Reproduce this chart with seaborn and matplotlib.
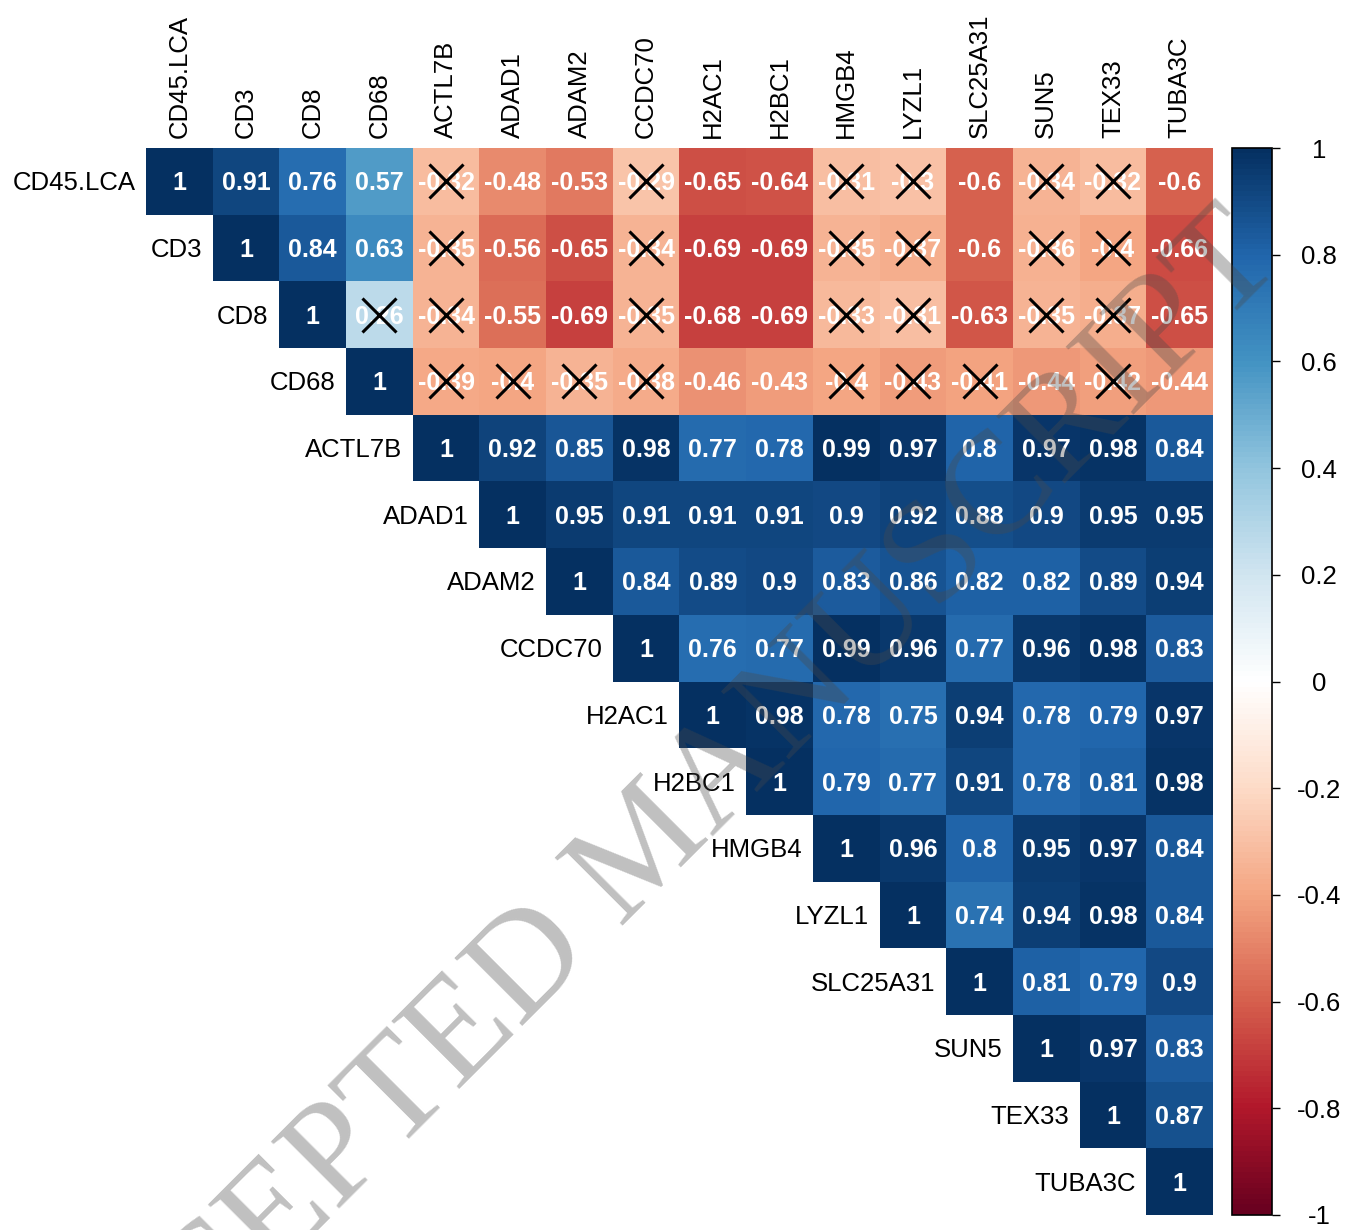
import numpy as np
import pandas as pd
import seaborn as sns
import matplotlib.pyplot as plt
from matplotlib.colors import LinearSegmentedColormap

# Variables in plotting order
genes = ["CD45.LCA", "CD3", "CD8", "CD68", "ACTL7B", "ADAD1", "ADAM2", "CCDC70",
         "H2AC1", "H2BC1", "HMGB4", "LYZL1", "SLC25A31", "SUN5", "TEX33", "TUBA3C"]

# Upper-triangle correlation rows (each row starts at its diagonal)
r_cd45 = [1, 0.91, 0.76, 0.57, -0.32, -0.48, -0.53, -0.29, -0.65, -0.64, -0.31, -0.30, -0.60, -0.34, -0.32, -0.60]
r_cd3 = [1, 0.84, 0.63, -0.35, -0.56, -0.65, -0.34, -0.69, -0.69, -0.35, -0.37, -0.60, -0.36, -0.40, -0.66]
r_cd8 = [1, 0.26, -0.34, -0.55, -0.69, -0.35, -0.68, -0.69, -0.33, -0.31, -0.63, -0.35, -0.37, -0.65]
r_cd68 = [1, -0.39, -0.40, -0.35, -0.38, -0.46, -0.43, -0.40, -0.43, -0.41, -0.44, -0.42, -0.44]
r_actl7b = [1, 0.92, 0.85, 0.98, 0.77, 0.78, 0.99, 0.97, 0.80, 0.97, 0.98, 0.84]
r_adad1 = [1, 0.95, 0.91, 0.91, 0.91, 0.90, 0.92, 0.88, 0.90, 0.95, 0.95]
r_adam2 = [1, 0.84, 0.89, 0.90, 0.83, 0.86, 0.82, 0.82, 0.89, 0.94]
r_ccdc70 = [1, 0.76, 0.77, 0.99, 0.96, 0.77, 0.96, 0.98, 0.83]
r_h2ac1 = [1, 0.98, 0.78, 0.75, 0.94, 0.78, 0.79, 0.97]
r_h2bc1 = [1, 0.79, 0.77, 0.91, 0.78, 0.81, 0.98]
r_hmgb4 = [1, 0.96, 0.80, 0.95, 0.97, 0.84]
r_lyzl1 = [1, 0.74, 0.94, 0.98, 0.84]
r_slc25a31 = [1, 0.81, 0.79, 0.90]
r_sun5 = [1, 0.97, 0.83]
r_tex33 = [1, 0.87]
r_tuba3c = [1]

upper_rows = [r_cd45, r_cd3, r_cd8, r_cd68, r_actl7b, r_adad1, r_adam2, r_ccdc70,
              r_h2ac1, r_h2bc1, r_hmgb4, r_lyzl1, r_slc25a31, r_sun5, r_tex33, r_tuba3c]

# Pairs that are not significant (crossed out)
ns_cd45 = ["ACTL7B", "CCDC70", "HMGB4", "LYZL1", "SUN5", "TEX33"]
ns_cd3 = ["ACTL7B", "CCDC70", "HMGB4", "LYZL1", "SUN5", "TEX33"]
ns_cd8 = ["CD68", "ACTL7B", "CCDC70", "HMGB4", "LYZL1", "SUN5", "TEX33"]
ns_cd68 = ["ACTL7B", "ADAD1", "ADAM2", "CCDC70", "HMGB4", "LYZL1", "SLC25A31", "TEX33"]
not_significant = {"CD45.LCA": ns_cd45, "CD3": ns_cd3, "CD8": ns_cd8, "CD68": ns_cd68}

# Symmetric matrix
n = len(genes)
corr = np.zeros((n, n))
for i, row in enumerate(upper_rows):
    for k, v in enumerate(row):
        corr[i, i + k] = v
        corr[i + k, i] = v
df = pd.DataFrame(corr, index=genes, columns=genes)


def fmt(v):
    s = f"{v:.2f}".rstrip("0").rstrip(".")
    return s


annot = np.vectorize(fmt)(corr)
mask = np.tril(np.ones((n, n), dtype=bool), k=-1)

# Diverging palette (RdBu with pure white centre)
cmap = LinearSegmentedColormap.from_list(
    "corr_rdbu",
    ["#67001F", "#B2182B", "#D6604D", "#F4A582", "#FDDBC7", "#FFFFFF",
     "#D1E5F0", "#92C5DE", "#4393C3", "#2166AC", "#053061"], N=200)

W, H = 1346, 1230
fig = plt.figure(figsize=(W / 100, H / 100), dpi=100)
plt.rcParams["font.family"] = ["Liberation Sans", "DejaVu Sans"]

ax = fig.add_axes([146 / W, 1 - 1215 / H, (1213 - 146) / W, (1215 - 148) / H])
cax = fig.add_axes([1232 / W, 1 - 1215 / H, 40 / W, (1215 - 148) / H])

sns.heatmap(df, mask=mask, cmap=cmap, vmin=-1, vmax=1, annot=annot, fmt="",
            annot_kws=dict(color="white", fontsize=18, fontweight="bold"),
            cbar_ax=cax, xticklabels=False, yticklabels=False, ax=ax,
            linewidths=0)
ax.set_xlim(0, n)
ax.set_ylim(n, 0)
ax.set_xticks([])
ax.set_yticks([])
ax.set_xlabel("")
ax.set_ylabel("")
# nudge cell numbers slightly downward
for t in ax.texts:
    x, y = t.get_position()
    t.set_position((x, y + 0.03))

# Crosses on non-significant cells
for rname, cols in not_significant.items():
    i = genes.index(rname)
    for cname in cols:
        j = genes.index(cname)
        ax.plot(j + 0.5, i + 0.5, marker="x", markersize=25, markeredgewidth=2.2,
                color="black", zorder=5)

# Row labels beside the diagonal, column labels above the top row
for i, g in enumerate(genes):
    ax.text(i - 0.16, i + 0.53, g, ha="right", va="center", fontsize=18.5,
            color="black", clip_on=False)
    ax.text(i + 0.5, -0.15, g, ha="center", va="bottom", rotation=90,
            fontsize=18.5, color="black", clip_on=False)

# Colour bar
cbar = ax.collections[0].colorbar
ticks = np.round(np.linspace(-1, 1, 11), 1)
cbar.set_ticks(ticks)
cbar.set_ticklabels([fmt(t) for t in ticks])
cbar.outline.set_edgecolor("black")
cbar.outline.set_linewidth(1.2)
cax.tick_params(axis="y", length=6, width=1, direction="out", labelsize=18.5,
                pad=28, colors="black")
for lab in cax.get_yticklabels():
    lab.set_horizontalalignment("center")

# Watermark across the figure
fig.text(648 / W, 1 - 850 / H, "ACCEPTED MANUSCRIPT", rotation=45,
         rotation_mode="anchor", ha="center", va="center", fontsize=105,
         family="Liberation Serif", color="#4a4a4a", alpha=0.35, zorder=10)

fig.savefig("out.png", dpi=100)
